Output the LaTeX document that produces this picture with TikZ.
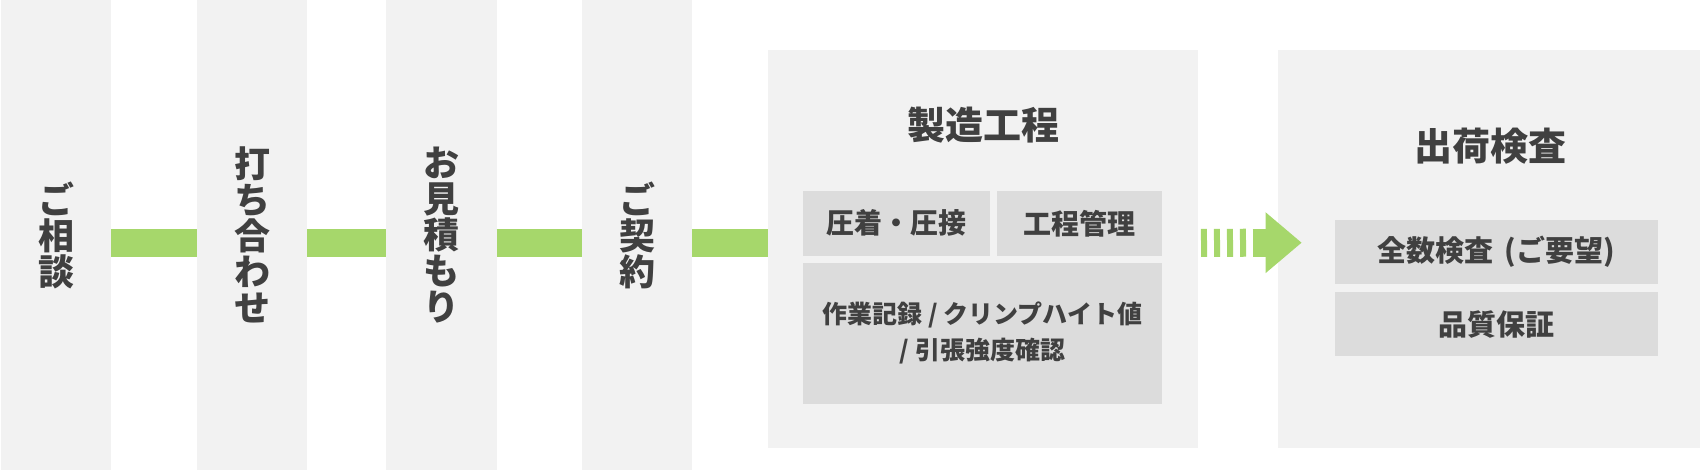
\documentclass[tikz,border=0pt]{standalone}
\usepackage{fontspec}
\setmainfont{Noto Sans CJK JP}
\usepackage{tikz}
\definecolor{panel}{HTML}{F2F2F2}
\definecolor{cell}{HTML}{DCDCDC}
\definecolor{bar}{HTML}{A6D76B}
\definecolor{ink}{HTML}{404040}

\begin{document}
\begin{tikzpicture}[x=1pt, y=-1pt,
  stage/.style={fill=panel, minimum width=110pt, minimum height=470pt, inner sep=0pt, outer sep=0pt, align=center, text=ink, font=\fontsize{36}{36}\selectfont\bfseries},
  board/.style={fill=panel, minimum height=398pt, inner sep=0pt, outer sep=0pt},
  cellbox/.style={fill=cell, inner sep=0pt, outer sep=0pt, align=center, text=ink, font=\fontsize{28}{36}\selectfont\bfseries},
  head/.style={text=ink, font=\fontsize{38}{38}\selectfont\bfseries},
  link/.style={draw=bar, line width=28pt}]
  \useasboundingbox (0,0) rectangle (1700,470);
  \node[stage] (S1) at (56,235) {ご\\相\\談};
  \node[stage] (S2) at (252,235) {打\\ち\\合\\わ\\せ};
  \node[stage, minimum width=110.5pt] (S3) at (441.25,235) {お\\見\\積\\も\\り};
  \node[stage] (S4) at (637,235) {ご\\契\\約};
  \node[board, minimum width=430pt] (P1) at (983,249) {};
  \node[board, minimum width=422.5pt] (P2) at (1488.75,249) {};
  \draw[link] ([yshift=-8pt]S1.east) -- ([yshift=-8pt]S2.west);
  \draw[link] ([yshift=-8pt]S2.east) -- ([yshift=-8pt]S3.west);
  \draw[link] ([yshift=-8pt]S3.east) -- ([yshift=-8pt]S4.west);
  \draw[link] ([yshift=-8pt]S4.east) -- ([yshift=6pt]P1.west);
  \node[head] (H1) at (983.5,125.5) {製造工程};
  \node[head] (H2) at (1490.5,146) {出荷検査};
  \node[cellbox, minimum width=187pt, minimum height=64.7pt] (C1) at (896.5,223.3) {圧着・圧接};
  \node[cellbox, minimum width=165pt, minimum height=64.7pt] (C2) at (1079.5,223.3) {工程管理};
  \node[cellbox, minimum width=359pt, minimum height=141pt, font=\fontsize{25}{36}\selectfont\bfseries] (C3) at (982.5,333.2) {作業記録 / クリンプハイト値\\/ 引張強度確認};
  \node[cellbox, minimum width=322.7pt, minimum height=64.3pt, font=\fontsize{29}{36}\selectfont\bfseries] (C4) at (1496.3,252.2) {全数検査 \,(ご要望)};
  \node[cellbox, minimum width=322.7pt, minimum height=64.3pt, font=\fontsize{29}{36}\selectfont\bfseries] (C5) at (1496.3,324.3) {品質保証};
  \coordinate (T) at ([xshift=24pt, yshift=6.3pt]P2.west);
  \coordinate (B) at ([xshift=-36pt]T);
  \draw[link, dash pattern=on 6pt off 7pt, dash phase=10pt] ([yshift=6pt]P1.east) -- ([xshift=-13pt]B);
  \draw[link] ([xshift=-13pt]B) -- (B);
  \fill[bar] ([yshift=30.5pt]B) -- (T) -- ([yshift=-30.5pt]B) -- cycle;
\end{tikzpicture}
\end{document}
